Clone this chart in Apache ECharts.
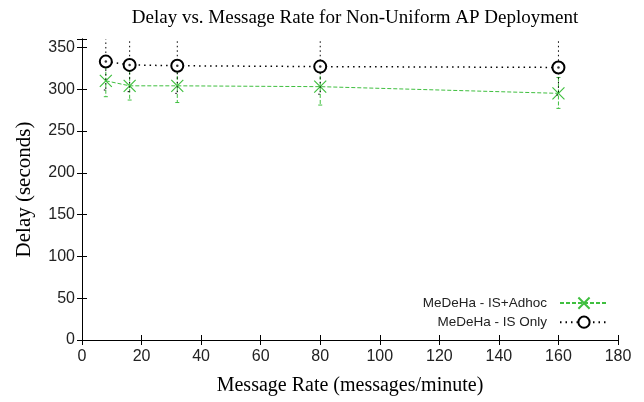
<!DOCTYPE html>
<html>
<head>
<meta charset="utf-8">
<script src="https://cdn.jsdelivr.net/npm/echarts@6/dist/echarts.min.js"></script>
<style>
  html, body { margin: 0; padding: 0; background: #fff; }
  #chart { width: 644px; height: 402px; }
</style>
</head>
<body>
<div id="chart"></div>
<script>
// message rates (messages/minute)
var rates = [8, 16, 32, 80, 160];
// MeDeHa - IS+Adhoc
var adhocDelay = [310, 304, 304, 303, 295];
var adhocLow = [291, 287, 284, 281, 277];
var adhocHigh = [328, 322, 323, 323, 314];
// MeDeHa - IS Only
var isOnlyDelay = [333, 329, 328, 327, 326];
var isOnlyLow = [299, 297, 295, 294, 293];
var isOnlyHigh = [372, 368, 368, 368, 368];

var xTicks = [0, 20, 40, 60, 80, 100, 120, 140, 160, 180];
var yTicks = [0, 50, 100, 150, 200, 250, 300, 350];

var green = '#3fbf3f';
var black = '#000';
var serif = 'Liberation Serif';
var sans = 'Liberation Sans';

function pairs(xs, ys) {
    return xs.map(function (x, i) { return [x, ys[i]]; });
}
function bars(xs, lo, hi) {
    return xs.map(function (x, i) { return [x, lo[i], hi[i]]; });
}

// vertical error bar with small caps
function errorBar(color, dash) {
    return function (params, api) {
        var top = api.coord([api.value(0), api.value(2)]);
        var bot = api.coord([api.value(0), api.value(1)]);
        var style = { stroke: color, lineWidth: 1, lineDash: dash };
        return {
            type: 'group',
            children: [
                { type: 'line', shape: { x1: top[0], y1: top[1], x2: bot[0], y2: bot[1] }, style: style },
                { type: 'line', shape: { x1: top[0] - 2, y1: top[1], x2: top[0] + 2, y2: top[1] }, style: style },
                { type: 'line', shape: { x1: bot[0] - 2, y1: bot[1], x2: bot[0] + 2, y2: bot[1] }, style: style }
            ]
        };
    };
}

var chart = echarts.init(document.getElementById('chart'));

var boxAxisX = {
    type: 'value', min: 0, max: 180, interval: 20,
    axisLine: { show: true, lineStyle: { color: black, width: 1 } },
    axisTick: { show: true, inside: true, length: 5, lineStyle: { color: black } },
    splitLine: { show: false }
};
var boxAxisY = {
    type: 'value', min: 0, max: 360, interval: 50,
    axisLine: { show: true, lineStyle: { color: black, width: 1 } },
    axisTick: { show: true, inside: true, length: 5, lineStyle: { color: black } },
    splitLine: { show: false }
};

var option = {
    animation: false,
    backgroundColor: '#fff',
    title: {
        text: 'Delay vs. Message Rate for Non-Uniform AP Deployment',
        left: 350, top: 4, textAlign: 'center',
        textStyle: { fontFamily: serif, fontSize: 19, fontWeight: 'normal', color: '#000' }
    },
    grid: { left: 82, right: 26, top: 39, bottom: 62 },
    legend: {
        data: ['MeDeHa - IS+Adhoc', 'MeDeHa - IS Only'],
        orient: 'vertical', align: 'right',
        right: 30, top: 290, itemGap: 4, itemWidth: 48, itemHeight: 14,
        textStyle: { fontFamily: sans, fontSize: 13.5, color: '#222', padding: [0, 8, 0, 0] }
    },
    xAxis: [
        Object.assign({}, boxAxisX, {
            position: 'bottom',
            name: 'Message Rate (messages/minute)',
            nameLocation: 'middle', nameGap: 36,
            nameTextStyle: { fontFamily: serif, fontSize: 20, color: '#000' },
            axisLabel: {
                fontFamily: sans, fontSize: 16, color: '#222', margin: 9,
                customValues: xTicks
            }
        }),
        Object.assign({}, boxAxisX, { position: 'top', axisLabel: { show: false } })
    ],
    yAxis: [
        Object.assign({}, boxAxisY, {
            position: 'left',
            name: 'Delay (seconds)',
            nameLocation: 'middle', nameGap: 47,
            nameTextStyle: { fontFamily: serif, fontSize: 21, color: '#000' },
            axisLabel: { fontFamily: sans, fontSize: 16, color: '#222', margin: 7, customValues: yTicks }
        }),
        Object.assign({}, boxAxisY, { position: 'right', axisLabel: { show: false } })
    ],
    series: [
        {
            type: 'custom', name: 'adhocErr', clip: true, z: 2,
            renderItem: errorBar(green, [4, 2]),
            data: bars(rates, adhocLow, adhocHigh)
        },
        {
            name: 'MeDeHa - IS+Adhoc', type: 'line', z: 3,
            data: pairs(rates, adhocDelay),
            symbol: 'path://M0,0L10,10M10,0L0,10',
            symbolSize: 12,
            lineStyle: { color: green, width: 1, type: [4, 2] },
            itemStyle: { color: 'none', borderColor: green, borderWidth: 1.2 }
        },
        {
            type: 'custom', name: 'isErr', clip: true, z: 4,
            renderItem: errorBar(black, [1.5, 3]),
            data: bars(rates, isOnlyLow, isOnlyHigh)
        },
        {
            name: 'MeDeHa - IS Only', type: 'line', z: 5,
            data: pairs(rates, isOnlyDelay),
            symbol: 'emptyCircle', symbolSize: 12,
            lineStyle: { color: black, width: 1.5, type: [1.5, 4] },
            itemStyle: { color: black, borderColor: black, borderWidth: 2 }
        },
        {
            name: 'isDot', type: 'scatter', z: 6,
            data: pairs(rates, isOnlyDelay),
            symbol: 'circle', symbolSize: 2.5,
            itemStyle: { color: black }
        }
    ]
};

chart.setOption(option);
</script>
</body>
</html>
